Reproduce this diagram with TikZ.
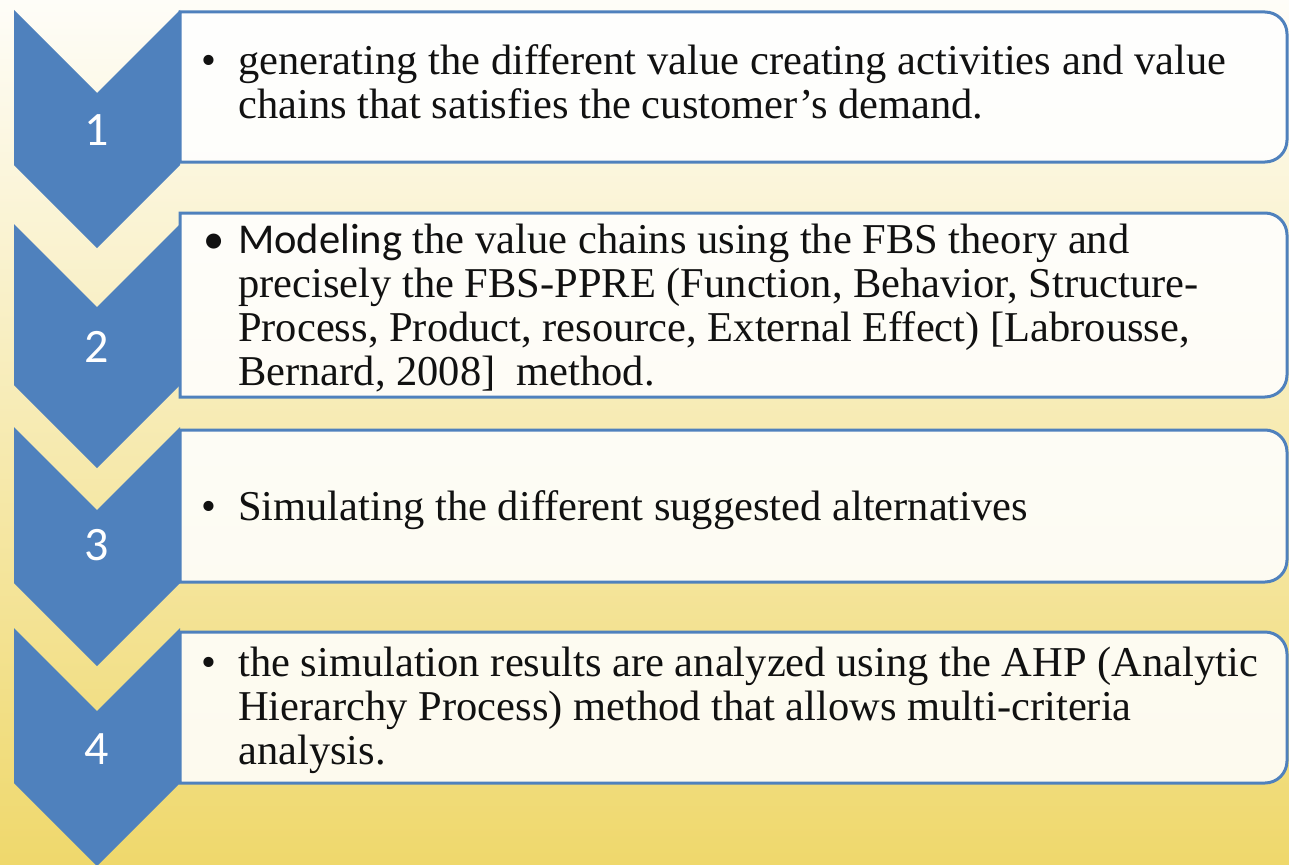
\documentclass[tikz,border=0pt]{standalone}
\usepackage{fontspec}
\setmainfont{Liberation Serif}
\newfontfamily\calfont{Carlito}
\definecolor{cblue}{HTML}{4F81BD}
\definecolor{bgtop}{HTML}{FEFDF8}
\definecolor{bgmid}{HTML}{F8ECC0}
\definecolor{bgbot}{HTML}{EFD86C}
\definecolor{ink}{HTML}{111111}
\tikzset{
  chev/.style={fill=cblue, draw=none},
  boxshape/.style={draw=cblue, line width=3pt, fill=white, fill opacity=0.88},
  num/.style={text=white, font=\calfont\fontsize{48}{48}\selectfont, inner sep=0pt},
  txtline/.style={anchor=base west, inner sep=0pt, text=ink, font=\fontsize{42.5}{44}\selectfont},
  bul/.style={anchor=base west, inner sep=0pt, text=ink, font=\fontsize{42.5}{44}\selectfont},
}
\newcommand{\mybox}[2]{\draw[boxshape] (180,#1) -- (1265,#1) arc[start angle=270,end angle=360,radius=22] -- (1287,{#2-22}) arc[start angle=0,end angle=90,radius=22] -- (180,#2) -- cycle;}
\newcommand{\mychev}[2]{\fill[chev] (14,#1) -- (97,{#1+83}) -- (180,#1) -- (180,#2) -- (97,{#2+83}) -- (14,#2) -- cycle;}
\begin{document}
\begin{tikzpicture}[x=1pt,y=-1pt]
\useasboundingbox (0,0) rectangle (1289,864);
\clip (0,0) rectangle (1289,864);
\shade[top color=bgtop, middle color=bgmid, bottom color=bgbot] (0,0) rectangle (1289,864);
% chevrons
\mychev{10}{165}
\mychev{224}{385}
\mychev{427}{583}
\mychev{628}{783}
% boxes
\mybox{12}{162}
\mybox{213}{397}
\mybox{430}{582}
\mybox{632}{783}
% numbers
\node[num] (n1) at (97,130) {1};
\node[num] (n2) at (97,347) {2};
\node[num] (n3) at (97,545) {3};
\node[num] (n4) at (97,749) {4};
% box 1
\node[bul] (b1) at (201,75) {•};
\node[txtline] (t1a) at (238,75) {\makebox[988pt][s]{generating the different value creating activities and value}};
\node[txtline] (t1b) at (238,119) {chains that satisfies the customer’s demand.};
% box 2
\node[bul, font=\calfont\fontsize{42.5}{44}\selectfont] (b2) at (203,253) {•};
\node[txtline] (t2a) at (238,253) {{\calfont Modeling} the value chains using the FBS theory and};
\node[txtline] (t2b) at (238,297) {precisely the FBS-PPRE (Function, Behavior, Structure-};
\node[txtline] (t2c) at (238,341) {Process, Product, resource, External Effect) [Labrousse,};
\node[txtline] (t2d) at (238,385) {Bernard, 2008]\ \ method.};
% box 3
\node[bul] (b3) at (201,520) {•};
\node[txtline] (t3a) at (238,520) {Simulating the different suggested alternatives};
% box 4
\node[bul] (b4) at (201,676) {•};
\node[txtline] (t4a) at (238,676) {the simulation results are analyzed using the AHP (Analytic};
\node[txtline] (t4b) at (238,720) {Hierarchy Process) method that allows multi-criteria};
\node[txtline] (t4c) at (238,764) {analysis.};
\end{tikzpicture}
\end{document}
